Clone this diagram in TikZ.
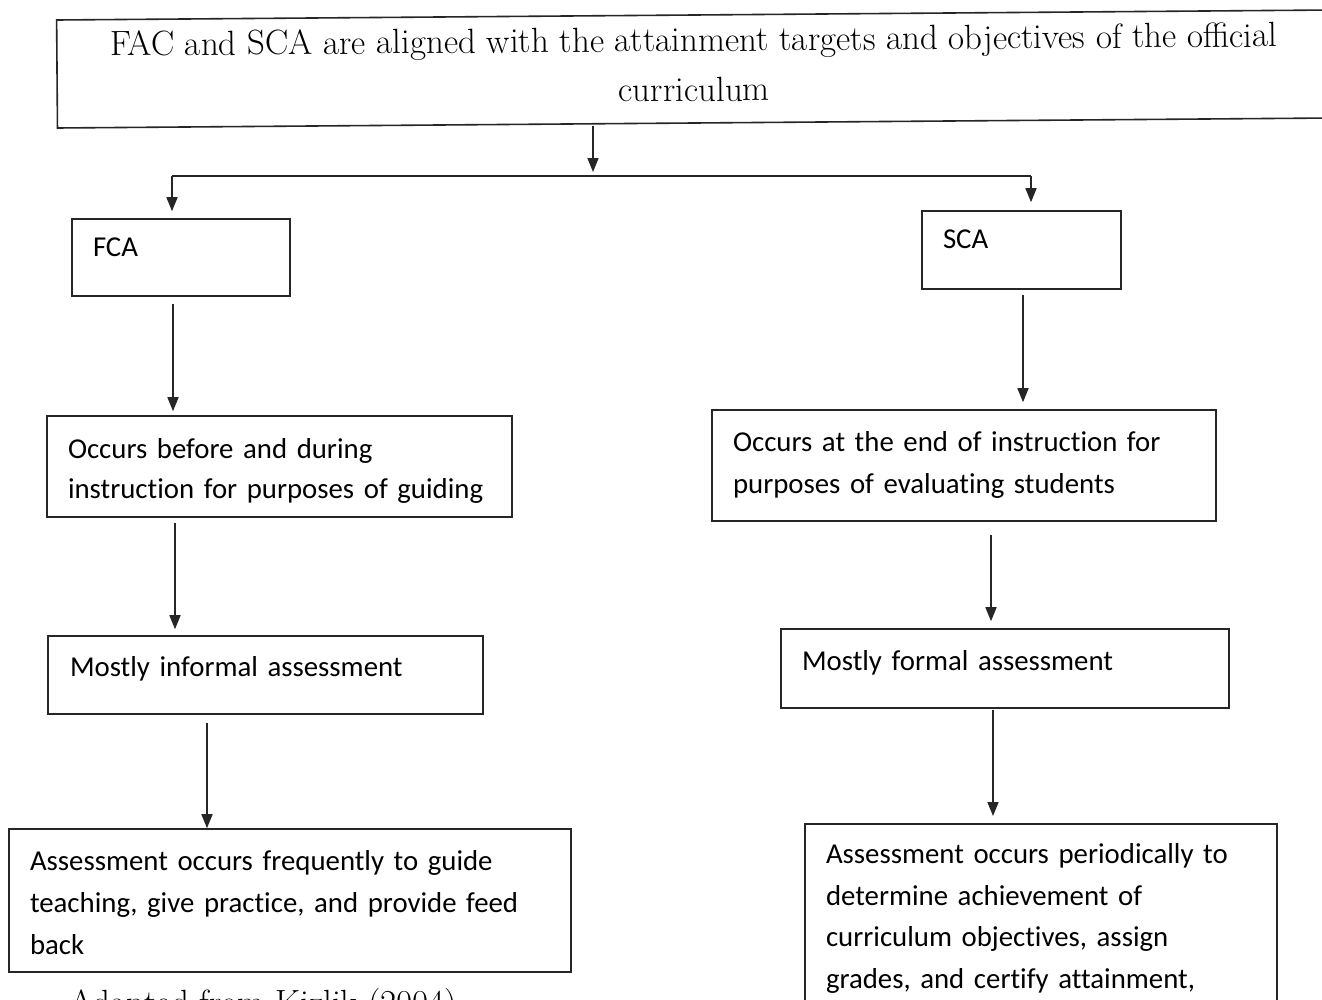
\documentclass[tikz,border=0pt]{standalone}
\usepackage{fontspec}
\newfontfamily\calfont[Ligatures=NoCommon]{Carlito}
\usetikzlibrary{arrows.meta}
\newcommand{\shiftv}[2]{\raisebox{#1}[\height][\depth]{#2}}
\begin{document}
\begin{tikzpicture}[x=1pt,y=-1pt,
  box/.style={draw=black!85, line width=1.6pt, inner sep=0pt, font=\calfont\fontsize{28.8}{41.5}\selectfont},
  arr/.style={draw=black!85, line width=1.6pt, -{Triangle[length=14pt,width=11pt]}},
  ln/.style={draw=black!85, line width=1.6pt}]
\useasboundingbox (0,0) rectangle (1322,999);
\clip (0,0) rectangle (1322,999);
\fill[white] (0,0) rectangle (1322,999);
% top box
\node[draw=black!85, line width=1.6pt, minimum width=1274pt, minimum height=108pt, inner sep=0pt,
  align=center, rotate=0.45, font=\fontsize{35}{50}\selectfont] (top) at (694,69)
  {\raisebox{10pt}{FAC and SCA are aligned with the attainment targets and objectives of the official}\\ \raisebox{10pt}{curriculum}};
\coordinate (j) at (593,176);
\coordinate (jl) at (172,176);
\coordinate (jr) at (1031,176);
% level 1
\node[box, minimum width=218pt, minimum height=77pt, text width=176pt, align=left] (fca) at (181,257.5) {\shiftv{10pt}{FCA}};
\node[box, minimum width=199pt, minimum height=78pt, text width=157pt, align=left] (sca) at (1021.5,250) {\shiftv{11pt}{SCA}};
% level 2
\node[box, minimum width=465pt, minimum height=101pt, text width=423pt, align=left] (f2) at (279.5,466.5)
  {\shiftv{-5pt}{Occurs before and during}\\\shiftv{-4pt}{instruction for purposes of guiding}};
\node[box, minimum width=504pt, minimum height=111pt, text width=462pt, align=left] (s2) at (964,465.5)
  {\shiftv{1pt}{Occurs at the end of instruction for}\\\shiftv{0pt}{purposes of evaluating students}};
% level 3
\node[box, minimum width=435pt, minimum height=78pt, text width=391pt, align=left] (f3) at (265.5,675)
  {\shiftv{6pt}{Mostly informal assessment}};
\node[box, minimum width=448pt, minimum height=79pt, text width=406pt, align=left] (s3) at (1005,668.5)
  {\shiftv{6pt}{Mostly formal assessment}};
% level 4
\node[box, minimum width=562pt, minimum height=143pt, text width=520pt, align=left] (f4) at (290,900.5)
  {\shiftv{-2pt}{Assessment occurs frequently to guide}\\\shiftv{-2pt}{teaching, give practice, and provide feed}\\\shiftv{-3pt}{back}};
\node[box, minimum width=472pt, minimum height=226pt, text width=430pt, align=left, anchor=north] (s4) at (1041,823)
  {Assessment occurs periodically to\\determine achievement of\\curriculum objectives, assign\\grades, and certify attainment,\\ \mbox{}};
\node[font=\fontsize{35}{40}\selectfont, anchor=north west, inner sep=0pt] (src) at (69,988)
  {Adapted from Kizlik (2004)};
% connectors
\coordinate (x1) at (173,0);
\coordinate (x2) at (1023,0);
\coordinate (x3) at (175,0);
\coordinate (x4) at (991,0);
\coordinate (x5) at (207,0);
\coordinate (x6) at (993,0);
\draw[arr, shorten <=2pt, shorten >=4pt] (top.south -| j) -- (j);
\draw[ln] (jl) -- (jr);
\draw[arr, shorten >=7pt] (jl) -- (fca.north -| jl);
\draw[arr, shorten >=8pt] (jr) -- (sca.north -| jr);
\draw[arr, shorten <=7pt, shorten >=4pt] (fca.south -| x1) -- (f2.north -| x1);
\draw[arr, shorten <=5pt, shorten >=7pt] (sca.south -| x2) -- (s2.north -| x2);
\draw[arr, shorten <=5pt, shorten >=6pt] (f2.south -| x3) -- (f3.north -| x3);
\draw[arr, shorten <=13pt, shorten >=7pt] (s2.south -| x4) -- (s3.north -| x4);
\draw[arr, shorten <=8pt, shorten >=0pt] (f3.south -| x5) -- (f4.north -| x5);
\draw[arr, shorten <=1pt, shorten >=7pt] (s3.south -| x6) -- (s4.north -| x6);
\end{tikzpicture}
\end{document}
